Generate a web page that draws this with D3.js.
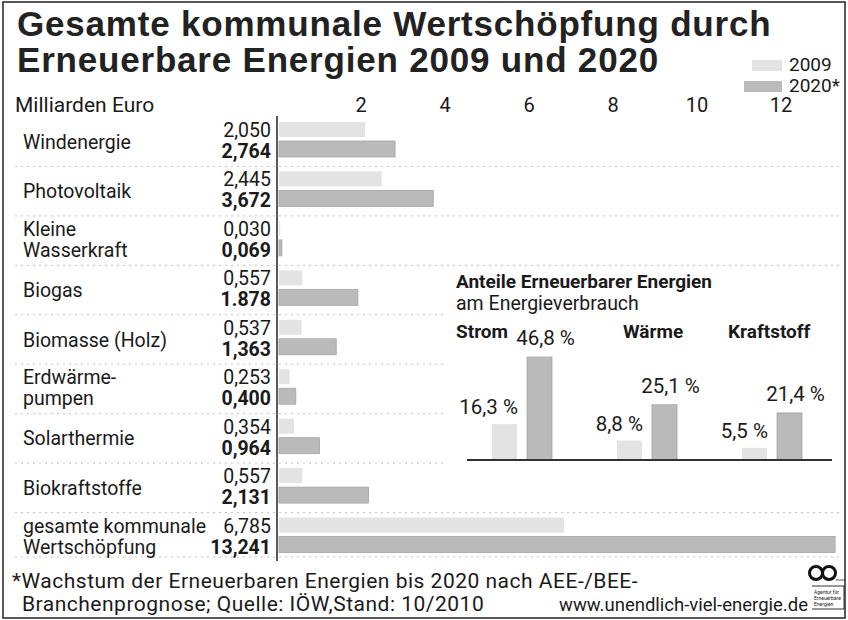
<!DOCTYPE html>
<html>
<head>
<meta charset="utf-8">
<script src="https://cdn.jsdelivr.net/npm/d3@7"></script>
<style>
  body { margin: 0; background: #fff; }
  text { font-family: Roboto, "DejaVu Sans", sans-serif; fill: #1a1a1a; }
  .title { font-family: "Liberation Sans", Arial, sans-serif; font-weight: bold; fill: #222; }
  .bold { font-weight: bold; }
</style>
</head>
<body>
<svg id="chart" width="848" height="620"></svg>
<script>
// 1. Data
const categories = ["Windenergie", "Photovoltaik", "Kleine\nWasserkraft", "Biogas", "Biomasse (Holz)",
  "Erdwärme-\npumpen", "Solarthermie", "Biokraftstoffe", "gesamte kommunale\nWertschöpfung"]
const values2009 = [2.050, 2.445, 0.030, 0.557, 0.537, 0.253, 0.354, 0.557, 6.785]
const values2020 = [2.764, 3.672, 0.069, 1.878, 1.363, 0.400, 0.964, 2.131, 13.241]
const labels2009 = ["2,050", "2,445", "0,030", "0,557", "0,537", "0,253", "0,354", "0,557", "6,785"]
const labels2020 = ["2,764", "3,672", "0,069", "1.878", "1,363", "0,400", "0,964", "2,131", "13,241"]
const xTicks = [2, 4, 6, 8, 10, 12]

const shareCats = ["Strom", "Wärme", "Kraftstoff"]
const share2009 = [16.3, 8.8, 5.5]
const share2020 = [46.8, 25.1, 21.4]
const shareLabels2009 = ["16,3 %", "8,8 %", "5,5 %"]
const shareLabels2020 = ["46,8 %", "25,1 %", "21,4 %"]

const col2009 = "#e3e3e3"
const col2020 = "#bababa"

// 2. Canvas
const svg = d3.select("#chart")

svg.append("rect")
  .attr("x", 3).attr("y", 2)
  .attr("width", 842).attr("height", 616)
  .attr("fill", "none")
  .attr("stroke", "#222")
  .attr("stroke-width", 1.5)

// title
svg.append("text").attr("class", "title")
  .attr("x", 17).attr("y", 36)
  .style("font-size", "35px")
  .style("letter-spacing", "0.8px")
  .text("Gesamte kommunale Wertschöpfung durch")
svg.append("text").attr("class", "title")
  .attr("x", 17).attr("y", 72)
  .style("font-size", "35px")
  .style("letter-spacing", "0.8px")
  .text("Erneuerbare Energien 2009 und 2020")

// legend
const legend = [
  { name: "2009", color: col2009, x: 752, y: 71 },
  { name: "2020*", color: col2020, x: 744, y: 92 },
]
legend.forEach(d => {
  svg.append("rect")
    .attr("x", d.x).attr("y", d.y - 11)
    .attr("width", 782 - d.x).attr("height", 11)
    .attr("fill", d.color)
  svg.append("text")
    .attr("x", 789).attr("y", d.y)
    .style("font-size", "19px")
    .text(d.name)
})

// 3. Scales
const xScale = d3.scaleLinear()
  .domain([0, 12])
  .range([277, 781])

const rowScale = d3.scaleBand()
  .domain(d3.range(categories.length))
  .range([117, 562])

// header + ticks
svg.append("text")
  .attr("x", 15).attr("y", 112)
  .style("font-size", "21px")
  .text("Milliarden Euro")

svg.selectAll(".tick-label")
  .data(xTicks)
  .enter().append("text")
  .attr("class", "tick-label")
  .attr("x", d => xScale(d))
  .attr("y", 112)
  .attr("text-anchor", "middle")
  .style("font-size", "20px")
  .text(d => d)

// row separators
const seps = d3.range(1, categories.length + 1).map(i => i === categories.length ? 557 : rowScale(i))
svg.selectAll(".sep")
  .data(seps)
  .enter().append("line")
  .attr("class", "sep")
  .attr("x1", 15).attr("x2", 840)
  .attr("y1", d => d).attr("y2", d => d)
  .attr("stroke", "#c4c4c4")
  .attr("stroke-width", 1)
  .attr("stroke-dasharray", "2,4")

// 4. Bars
svg.selectAll(".bar2009")
  .data(values2009)
  .enter().append("rect")
  .attr("class", "bar2009")
  .attr("x", xScale(0) + 2)
  .attr("y", (d, i) => rowScale(i) + 5)
  .attr("width", d => xScale(d) - xScale(0))
  .attr("height", 15)
  .attr("fill", col2009)

svg.selectAll(".bar2020")
  .data(values2020)
  .enter().append("rect")
  .attr("class", "bar2020")
  .attr("x", xScale(0) + 2)
  .attr("y", (d, i) => rowScale(i) + 24)
  .attr("width", d => xScale(d) - xScale(0))
  .attr("height", 16)
  .attr("fill", col2020)
  .attr("stroke", "#a5a5a5")
  .attr("stroke-width", 0.8)

// axis line
svg.append("line")
  .attr("x1", xScale(0)).attr("x2", xScale(0))
  .attr("y1", 116).attr("y2", 561)
  .attr("stroke", "#222")
  .attr("stroke-width", 1.5)

// category labels
const labelSize = "19.5px"
categories.forEach((c, i) => {
  const top = rowScale(i)
  const lines = c.split("\n")
  if (lines.length === 1) {
    svg.append("text")
      .attr("x", 23).attr("y", top + rowScale.bandwidth() / 2 + 7)
      .style("font-size", labelSize)
      .text(c)
  } else {
    lines.forEach((l, j) => {
      svg.append("text")
        .attr("x", 23).attr("y", top + 20 + j * 21)
        .style("font-size", labelSize)
        .text(l)
    })
  }
})

// value labels
svg.selectAll(".val2009")
  .data(labels2009)
  .enter().append("text")
  .attr("x", 271)
  .attr("y", (d, i) => rowScale(i) + 20)
  .attr("text-anchor", "end")
  .style("font-size", labelSize)
  .text(d => d)

svg.selectAll(".val2020")
  .data(labels2020)
  .enter().append("text")
  .attr("class", "bold")
  .attr("x", 271)
  .attr("y", (d, i) => rowScale(i) + 41)
  .attr("text-anchor", "end")
  .style("font-size", labelSize)
  .text(d => d)

// 5. Inset chart
const inset = svg.append("g")

inset.append("rect")
  .attr("x", 445).attr("y", 266)
  .attr("width", 395).attr("height", 200)
  .attr("fill", "#fff")

inset.append("text")
  .attr("class", "bold")
  .attr("x", 456).attr("y", 288)
  .style("font-size", "19px")
  .text("Anteile Erneuerbarer Energien")
inset.append("text")
  .attr("x", 456).attr("y", 310)
  .style("font-size", "19.5px")
  .text("am Energieverbrauch")

const groupScale = d3.scaleBand()
  .domain(shareCats)
  .range([492, 867])

const shareScale = d3.scaleLinear()
  .domain([0, 50])
  .range([460, 350])

const headerX = [456, 623, 728]
shareCats.forEach((c, i) => {
  inset.append("text")
    .attr("class", "bold")
    .attr("x", headerX[i]).attr("y", 338)
    .style("font-size", "19px")
    .text(c)
})

const barW = 25
inset.selectAll(".s2009")
  .data(share2009)
  .enter().append("rect")
  .attr("x", (d, i) => groupScale(shareCats[i]))
  .attr("y", d => shareScale(d))
  .attr("width", barW)
  .attr("height", d => shareScale(0) - shareScale(d))
  .attr("fill", col2009)

inset.selectAll(".s2020")
  .data(share2020)
  .enter().append("rect")
  .attr("x", (d, i) => groupScale(shareCats[i]) + 35)
  .attr("y", d => shareScale(d))
  .attr("width", barW)
  .attr("height", d => shareScale(0) - shareScale(d))
  .attr("fill", col2020)
  .attr("stroke", "#a5a5a5")
  .attr("stroke-width", 0.8)

inset.selectAll(".l2009")
  .data(share2009)
  .enter().append("text")
  .attr("x", (d, i) => groupScale(shareCats[i]) + barW + 1)
  .attr("y", d => shareScale(d) - 10)
  .attr("text-anchor", "end")
  .style("font-size", "20.5px")
  .text((d, i) => shareLabels2009[i])

inset.selectAll(".l2020")
  .data(share2020)
  .enter().append("text")
  .attr("x", (d, i) => groupScale(shareCats[i]) + 35 + barW / 2 + 6)
  .attr("y", d => shareScale(d) - 12)
  .attr("text-anchor", "middle")
  .style("font-size", "20.5px")
  .text((d, i) => shareLabels2020[i])

inset.append("line")
  .attr("x1", 467).attr("x2", 832)
  .attr("y1", shareScale(0)).attr("y2", shareScale(0))
  .attr("stroke", "#333")
  .attr("stroke-width", 2)

// 6. Footer
svg.append("text")
  .attr("x", 12).attr("y", 588)
  .style("font-size", "21px")
  .style("letter-spacing", "0.5px")
  .text("*Wachstum der Erneuerbaren Energien bis 2020 nach AEE-/BEE-")
svg.append("text")
  .attr("x", 22).attr("y", 611)
  .style("font-size", "21px")
  .style("letter-spacing", "0.5px")
  .text("Branchenprognose; Quelle: IÖW,Stand: 10/2010")
svg.append("text")
  .attr("x", 808).attr("y", 611)
  .attr("text-anchor", "end")
  .style("font-size", "18.5px")
  .text("www.unendlich-viel-energie.de")

// logo: infinity mark + small box
svg.selectAll(".logo-ring")
  .data([816, 829])
  .enter().append("circle")
  .attr("cx", d => d).attr("cy", 573)
  .attr("r", 6.5)
  .attr("fill", "none")
  .attr("stroke", "#111")
  .attr("stroke-width", 3)
svg.append("line")
  .attr("x1", 836).attr("x2", 845)
  .attr("y1", 580).attr("y2", 580)
  .attr("stroke", "#333").attr("stroke-width", 0.8)
svg.append("path")
  .attr("d", "M812,586 H844 V609 H812")
  .attr("fill", "none")
  .attr("stroke", "#333")
  .attr("stroke-width", 1)
;["Agentur für", "Erneuerbare", "Energien"].forEach((t, i) => {
  svg.append("text")
    .attr("x", 814).attr("y", 594 + i * 6)
    .style("font-size", "5px")
    .text(t)
})
</script>
</body>
</html>
